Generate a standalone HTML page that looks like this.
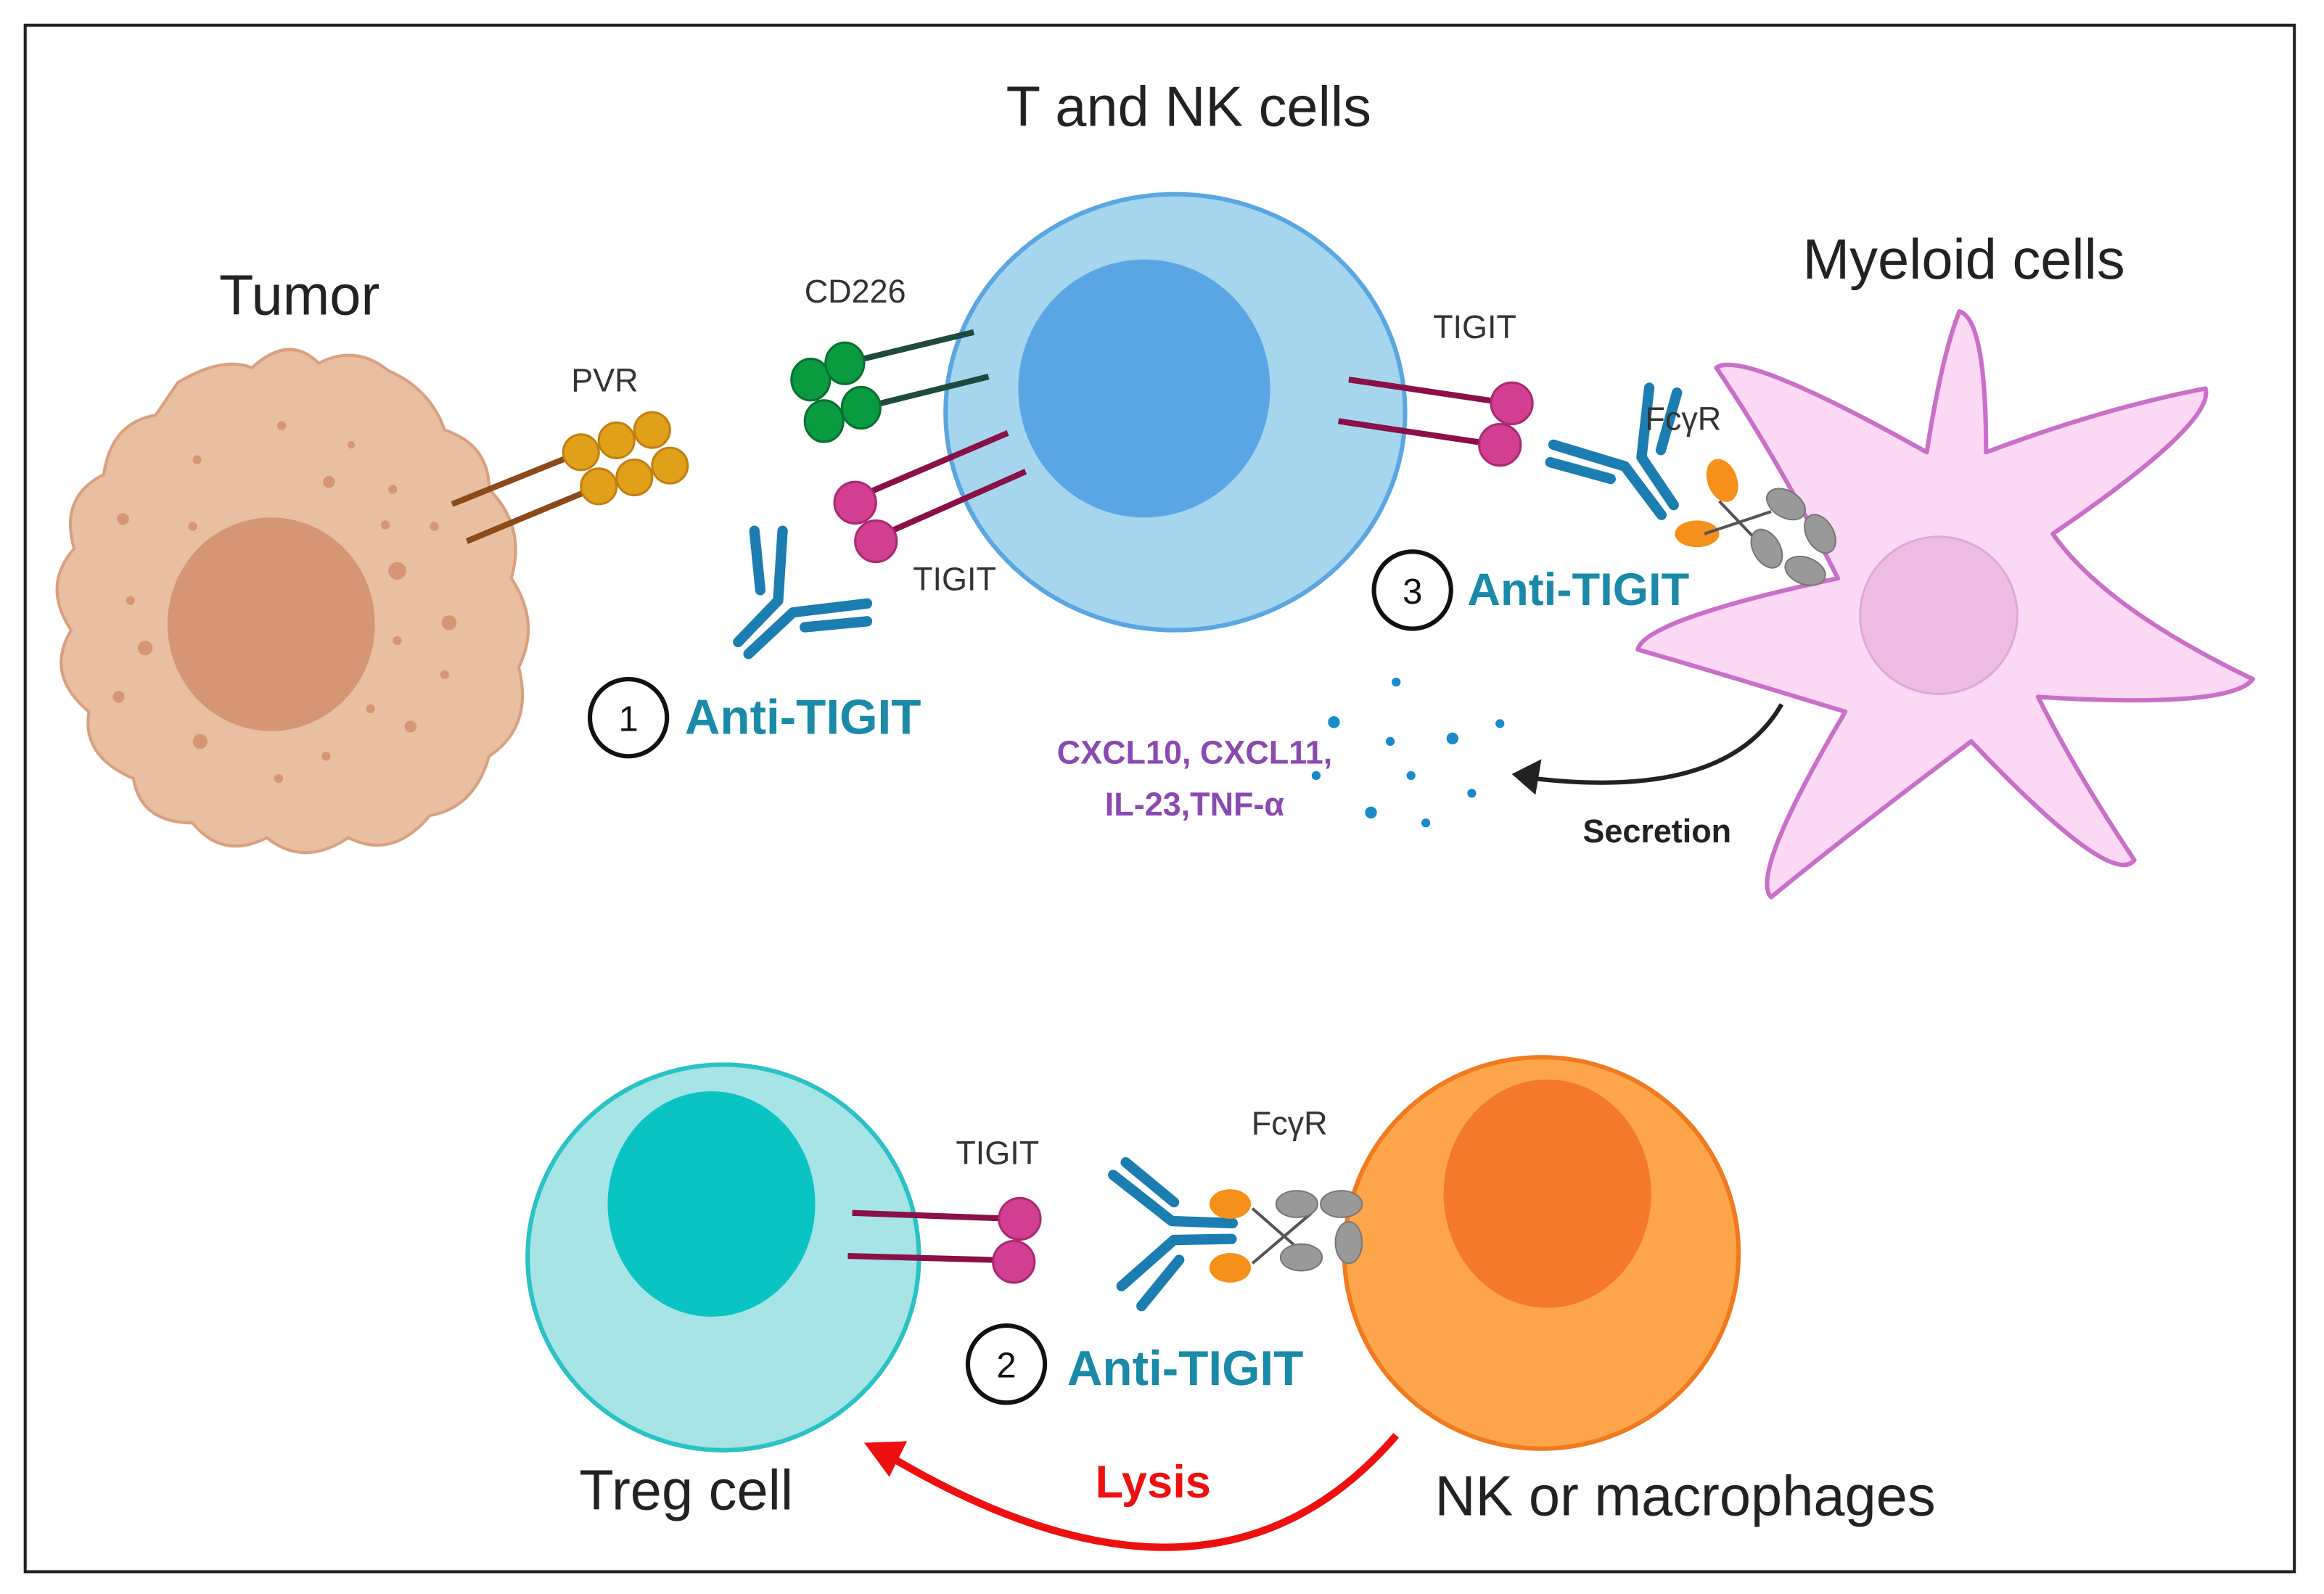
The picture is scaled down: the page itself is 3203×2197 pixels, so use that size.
<!DOCTYPE html>
<html><head><meta charset="utf-8"><style>html,body{margin:0;padding:0;background:#fff}svg{display:block}text{font-family:"Liberation Sans",sans-serif}</style></head><body>
<svg width="3203" height="2197" viewBox="0 0 1568 1075" preserveAspectRatio="none" xmlns="http://www.w3.org/2000/svg">
<defs>
<g id="ab">
<path d="M-35,30 L-8,2 L-5,-45 M-20,-5 L-24,-45 M-28,38 L2,10 L52,4 M10,20 L52,16" stroke="#1c7db0" stroke-width="7" stroke-linecap="round" stroke-linejoin="round" fill="none"/>
</g>
</defs>
<rect x="0" y="0" width="1568" height="1075" fill="#fff"/>
<rect x="17" y="17" width="1531" height="1043" fill="none" stroke="#222" stroke-width="2"/>
<text x="802" y="85" font-size="38" text-anchor="middle" fill="#222">T and NK cells</text>
<text x="202" y="212" font-size="38" text-anchor="middle" fill="#222">Tumor</text>
<text x="1325" y="188" font-size="38" text-anchor="middle" fill="#222">Myeloid cells</text>
<!-- tumor -->
<path d="M120,258 Q150,240 170,248 Q195,225 215,245 Q240,232 262,250 Q290,262 300,290 Q330,300 330,330 Q355,355 345,390 Q365,420 350,450 Q360,490 330,510 Q320,545 290,550 Q265,580 235,565 Q205,585 180,565 Q150,580 130,555 Q95,555 90,525 Q55,510 60,480 Q30,455 48,425 Q28,395 50,370 Q40,335 70,320 Q75,285 105,280 Z" fill="#e8bfa0" stroke="#d9a080" stroke-width="2"/>
<ellipse cx="183" cy="421" rx="70" ry="72" fill="#d69574"/>
<g fill="#d69574">
<circle cx="133" cy="310" r="3"/><circle cx="190" cy="287" r="3"/><circle cx="237" cy="300" r="2.5"/><circle cx="83" cy="350" r="4"/><circle cx="130" cy="355" r="3"/><circle cx="222" cy="325" r="4"/><circle cx="265" cy="330" r="3"/><circle cx="293" cy="355" r="3"/><circle cx="268" cy="385" r="6"/><circle cx="303" cy="420" r="5"/><circle cx="268" cy="432" r="3"/><circle cx="98" cy="437" r="5"/><circle cx="80" cy="470" r="4"/><circle cx="135" cy="500" r="5"/><circle cx="188" cy="525" r="3"/><circle cx="250" cy="478" r="3"/><circle cx="277" cy="490" r="4"/><circle cx="220" cy="510" r="3"/><circle cx="300" cy="455" r="3"/><circle cx="88" cy="405" r="3"/><circle cx="260" cy="354" r="3"/>
</g>
<path d="M305,340 L392,305 M315,365 L404,328" stroke="#8b4a1a" stroke-width="4"/>
<g fill="#e0a01a" stroke="#c08010" stroke-width="1.5">
<circle cx="392" cy="305" r="12"/><circle cx="416" cy="297" r="12"/><circle cx="440" cy="290" r="12"/><circle cx="404" cy="328" r="12"/><circle cx="428" cy="322" r="12"/><circle cx="452" cy="314" r="12"/>
</g>
<text x="408" y="264" font-size="22" text-anchor="middle" fill="#333">PVR</text>
<!-- T cell -->
<ellipse cx="793" cy="278" rx="155" ry="147" fill="#a6d5ee" stroke="#5aa6e0" stroke-width="3"/>
<ellipse cx="772" cy="262" rx="85" ry="87" fill="#5aa6e4"/>
<path d="M570,245 L657,224 M582,275 L667,254" stroke="#1e4a40" stroke-width="4"/>
<g fill="#0a9a40" stroke="#087030" stroke-width="1.5">
<ellipse cx="547" cy="256" rx="13" ry="14"/><ellipse cx="570" cy="245" rx="13" ry="14"/><ellipse cx="556" cy="284" rx="13" ry="14"/><ellipse cx="581" cy="275" rx="13" ry="14"/>
</g>
<text x="577" y="204" font-size="22" text-anchor="middle" fill="#333">CD226</text>
<path d="M584,333 L680,292 M597,360 L692,318" stroke="#8a1048" stroke-width="4"/>
<g fill="#d23e92" stroke="#a82a70" stroke-width="1.5"><circle cx="577" cy="339" r="14"/><circle cx="591" cy="365" r="14"/></g>
<text x="644" y="398" font-size="22" text-anchor="middle" fill="#333">TIGIT</text>
<g transform="translate(533,403)"><use href="#ab"/></g>
<path d="M910,256 L1018,272 M903,284 L1010,300" stroke="#8a1048" stroke-width="4"/>
<g fill="#d23e92" stroke="#a82a70" stroke-width="1.5"><circle cx="1020" cy="272" r="14"/><circle cx="1012" cy="300" r="14"/></g>
<text x="995" y="228" font-size="22" text-anchor="middle" fill="#333">TIGIT</text>
<circle cx="424" cy="484" r="26" fill="#fff" stroke="#111" stroke-width="3"/>
<text x="424" y="493" font-size="24" text-anchor="middle" fill="#111">1</text>
<text x="462" y="495" font-size="33" font-weight="bold" fill="#1a8aa8">Anti-TIGIT</text>
<!-- Myeloid -->
<path d="M1300,305 Q1310,240 1322,210 Q1340,215 1340,305 Q1420,275 1488,262 Q1495,285 1385,360 Q1420,410 1520,458 Q1505,478 1375,470 Q1400,520 1440,580 Q1425,600 1330,500 Q1250,560 1195,605 Q1180,590 1245,480 Q1180,460 1105,438 Q1110,418 1240,390 Q1200,310 1158,248 Q1175,235 1300,305 Z" fill="#fbd8f4" stroke="#c870c8" stroke-width="3" stroke-linejoin="round"/>
<circle cx="1308" cy="415" r="53" fill="#edbde4" stroke="#e0a8d8" stroke-width="1.5"/>
<g transform="translate(1100,305) rotate(10) scale(-1,1)"><use href="#ab"/></g>
<g fill="#f5901a"><ellipse cx="1162" cy="324" rx="10" ry="15" transform="rotate(-20 1162 324)"/><ellipse cx="1145" cy="360" rx="15" ry="9"/></g>
<path d="M1160,338 L1200,380 M1150,360 L1195,345" stroke="#555" stroke-width="2"/>
<g fill="#999" stroke="#777" stroke-width="1"><ellipse cx="1205" cy="340" rx="14" ry="9" transform="rotate(30 1205 340)"/><ellipse cx="1228" cy="360" rx="14" ry="9" transform="rotate(60 1228 360)"/><ellipse cx="1192" cy="370" rx="14" ry="9" transform="rotate(60 1192 370)"/><ellipse cx="1218" cy="385" rx="14" ry="9" transform="rotate(20 1218 385)"/></g>
<text x="1110" y="290" font-size="22" fill="#333">FcγR</text>
<circle cx="953" cy="398" r="26" fill="#fff" stroke="#111" stroke-width="3"/>
<text x="953" y="407" font-size="24" text-anchor="middle" fill="#111">3</text>
<text x="990" y="408" font-size="31" font-weight="bold" fill="#1a8aa8">Anti-TIGIT</text>
<g fill="#1a8ac8"><circle cx="942" cy="460" r="3"/><circle cx="900" cy="487" r="4"/><circle cx="980" cy="498" r="4"/><circle cx="1012" cy="488" r="3"/><circle cx="938" cy="500" r="3"/><circle cx="952" cy="523" r="3"/><circle cx="888" cy="523" r="3"/><circle cx="993" cy="535" r="3"/><circle cx="925" cy="548" r="4"/><circle cx="962" cy="555" r="3"/></g>
<text x="806" y="515" font-size="22" font-weight="bold" text-anchor="middle" fill="#8a4ab0">CXCL10, CXCL11,</text>
<text x="806" y="550" font-size="22" font-weight="bold" text-anchor="middle" fill="#8a4ab0">IL-23,TNF-α</text>
<path d="M1202,475 Q1165,540 1035,525" fill="none" stroke="#222" stroke-width="3"/>
<path d="M1020,522 L1040,512 L1036,536 Z" fill="#222"/>
<text x="1118" y="568" font-size="22" font-weight="bold" text-anchor="middle" fill="#222">Secretion</text>
<!-- Treg -->
<ellipse cx="488" cy="848" rx="132" ry="130" fill="#a6e4e6" stroke="#2ac2c4" stroke-width="3"/>
<ellipse cx="480" cy="812" rx="70" ry="76" fill="#0ac4c4"/>
<path d="M575,818 L685,822 M572,847 L682,850" stroke="#8a1048" stroke-width="4"/>
<g fill="#d23e92" stroke="#a82a70" stroke-width="1.5"><circle cx="688" cy="822" r="14"/><circle cx="684" cy="851" r="14"/></g>
<text x="673" y="785" font-size="22" text-anchor="middle" fill="#333">TIGIT</text>
<text x="463" y="1018" font-size="38" text-anchor="middle" fill="#222">Treg cell</text>
<!-- NK -->
<ellipse cx="1040" cy="845" rx="133" ry="132" fill="#fda54a" stroke="#f07a20" stroke-width="3"/>
<ellipse cx="1044" cy="805" rx="70" ry="77" fill="#f47a2a"/>
<g transform="translate(785,832) rotate(-135)"><use href="#ab"/></g>
<g fill="#f5901a"><ellipse cx="830" cy="812" rx="14" ry="10"/><ellipse cx="830" cy="855" rx="14" ry="10"/></g>
<path d="M845,815 L885,850 M845,852 L885,818" stroke="#555" stroke-width="2"/>
<g fill="#999" stroke="#777" stroke-width="1"><ellipse cx="875" cy="812" rx="14" ry="9"/><ellipse cx="905" cy="812" rx="14" ry="9"/><ellipse cx="878" cy="848" rx="14" ry="9"/><ellipse cx="910" cy="838" rx="9" ry="14"/></g>
<text x="870" y="765" font-size="22" text-anchor="middle" fill="#333">FcγR</text>
<circle cx="679" cy="920" r="26" fill="#fff" stroke="#111" stroke-width="3"/>
<text x="679" y="929" font-size="24" text-anchor="middle" fill="#111">2</text>
<text x="720" y="934" font-size="33" font-weight="bold" fill="#1a8aa8">Anti-TIGIT</text>
<text x="1137" y="1022" font-size="38" text-anchor="middle" fill="#222">NK or macrophages</text>
<path d="M942,968 Q820,1110 605,985" fill="none" stroke="#ee1010" stroke-width="5"/>
<path d="M583,973 L612,972 L600,996 Z" fill="#ee1010"/>
<text x="778" y="1010" font-size="31" font-weight="bold" text-anchor="middle" fill="#ee1010">Lysis</text>
</svg>
</body></html>
